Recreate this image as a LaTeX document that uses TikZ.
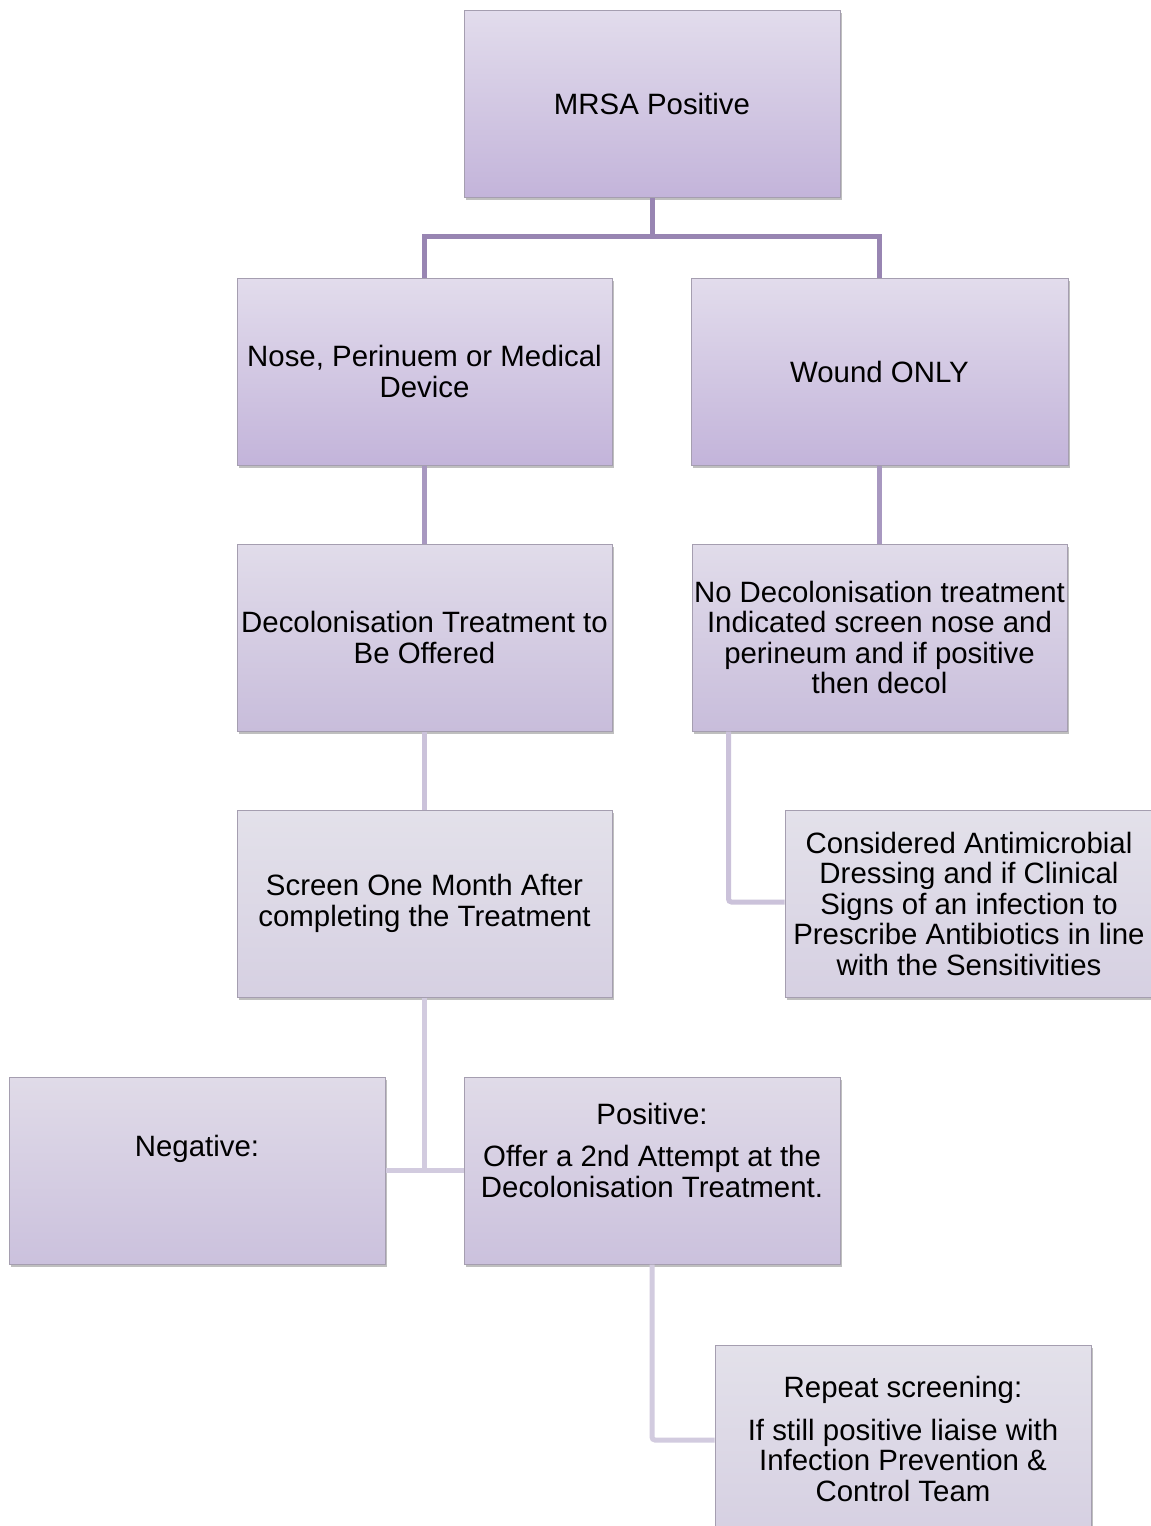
\documentclass[tikz,border=0pt]{standalone}
\usepackage{fontspec}
\setmainfont{Liberation Sans}
\usetikzlibrary{shadows}
\definecolor{tA}{RGB}{226,220,236}
\definecolor{bA}{RGB}{195,180,218}
\definecolor{tB}{RGB}{225,220,234}
\definecolor{bB}{RGB}{200,189,219}
\definecolor{tC}{RGB}{227,225,234}
\definecolor{bC}{RGB}{214,208,226}
\definecolor{tD}{RGB}{224,219,232}
\definecolor{bD}{RGB}{203,193,221}
\definecolor{edgeC}{RGB}{165,158,176}
\definecolor{lnA}{RGB}{152,133,178}
\definecolor{lnB}{RGB}{168,152,192}
\definecolor{lnC}{RGB}{203,194,218}
\definecolor{lnD}{RGB}{210,203,223}
\tikzset{
  box/.style={rectangle, draw=edgeC, line width=1pt, inner sep=0pt,
    minimum width=376pt, minimum height=187pt, align=center,
    font=\fontsize{29.4}{30.5}\selectfont,
    drop shadow={shadow xshift=2pt, shadow yshift=-2.5pt, opacity=0.25, fill=black}},
  lvA/.style={box, top color=tA, bottom color=bA},
  lvB/.style={box, top color=tB, bottom color=bB},
  lvC/.style={box, top color=tC, bottom color=bC},
  lvD/.style={box, top color=tD, bottom color=bD},
  txt/.style={align=center, inner sep=0pt, font=\fontsize{29.4}{30.5}\selectfont},
  conn/.style={line width=5pt},
}
\begin{document}
\begin{tikzpicture}[x=1pt,y=-1pt]
\useasboundingbox (0,0) rectangle (1151,1526);
\fill[white] (0,0) rectangle (1151,1526);

\coordinate (j1) at (652,236);

% boxes
\node[lvA] (mrsa) at (652,104) {MRSA Positive};
\node[lvA, minimum width=375pt] (nose) at (424.5,371.5) {Nose, Perinuem or Medical\\Device};
\node[lvA, minimum width=377pt] (wound) at (879.5,371.5) {Wound ONLY};
\node[lvB, minimum width=375pt] (decol) at (424.5,637.5) {Decolonisation Treatment to\\Be Offered};
\node[lvB, minimum width=375pt] (nodecol) at (879.5,637.5) {No Decolonisation treatment\\Indicated screen nose and\\perineum and if positive\\then decol};
\node[lvC, minimum width=375pt] (screen) at (424.5,903.5) {Screen One Month After\\completing the Treatment};
\node[lvC, minimum width=368pt] (consid) at (969,903.5) {Considered Antimicrobial\\Dressing and if Clinical\\Signs of an infection to\\Prescribe Antibiotics in line\\with the Sensitivities};
\node[lvD] (neg) at (197,1170.5) {};
\node[txt] (negtxt) at (197,1149) {Negative:};
\node[lvD] (pos) at (652,1170.5) {};
\node[txt] (postxt) at (652,1150) {Positive:\\[12pt]Offer a 2nd Attempt at the\\Decolonisation Treatment.};
\node[lvC, minimum height=188pt] (rep) at (903,1439) {Repeat screening:\\[12pt]If still positive liaise with\\Infection Prevention \&\\Control Team};

% connectors
\draw[conn, lnA] (mrsa.south) -- (j1) -| (nose.north);
\draw[conn, lnA] (j1) -| (wound.north);
\draw[conn, lnB] (nose.south) -- (decol.north);
\draw[conn, lnB] (wound.south) -- (nodecol.north);
\draw[conn, lnC] (decol.south) -- (screen.north);
\draw[conn, lnC, rounded corners=3pt] ([xshift=37pt]nodecol.south west) |- ([yshift=1.5pt]consid.west);
\draw[conn, lnD] (screen.south) -- (screen.south |- neg.east);
\draw[conn, lnD] (neg.east) -- (pos.west);
\draw[conn, lnD, rounded corners=3pt] (pos.south) |- ([yshift=-1pt]rep.west);
\end{tikzpicture}
\end{document}
